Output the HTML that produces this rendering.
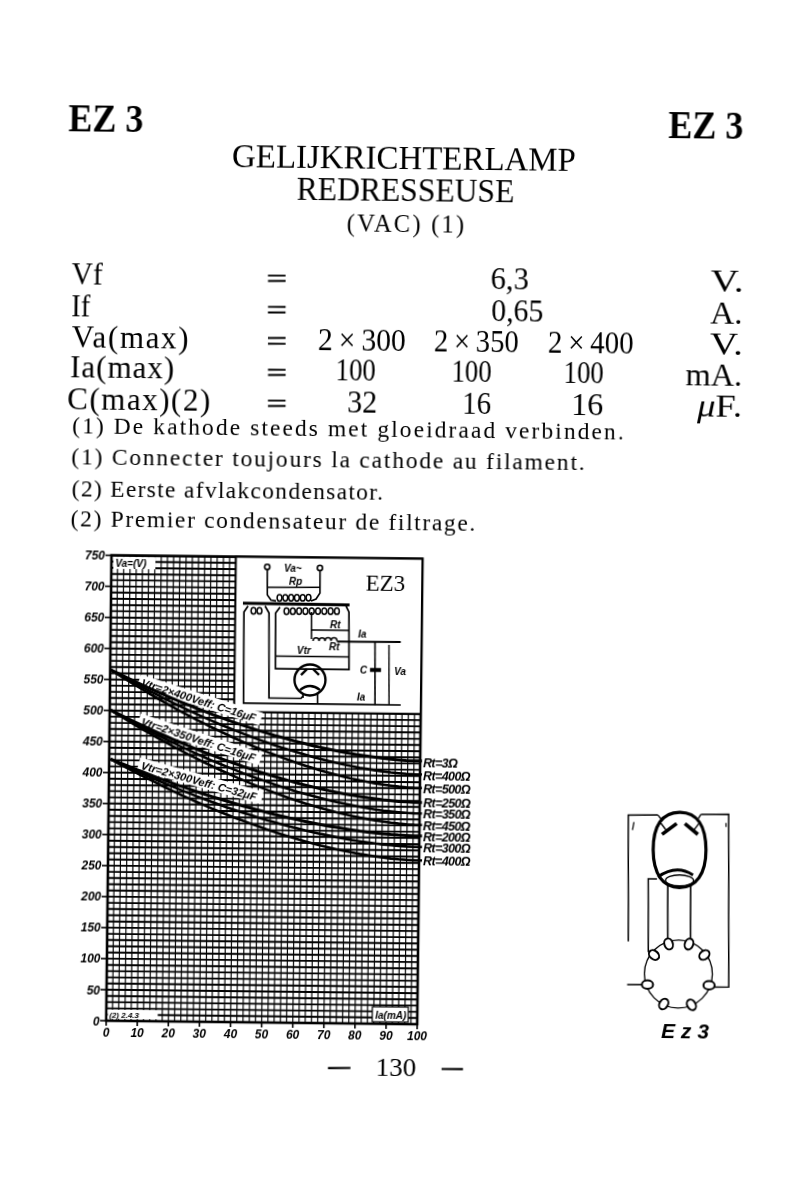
<!DOCTYPE html>
<html><head><meta charset="utf-8">
<style>
html,body{margin:0;padding:0;background:#fff;}
body{width:800px;height:1200px;position:relative;overflow:hidden;font-family:"Liberation Serif",serif;color:#000;}
#page{position:absolute;left:0;top:0;width:800px;height:1200px;filter:grayscale(1);transform-origin:400px 600px;transform:rotate(0.65deg);}
.t{position:absolute;white-space:nowrap;line-height:1;transform-origin:0 0;}
</style></head><body><div id="page">
<div class="t" id="ezl" style="left:63.36px;top:103.42px;font-size:39.5px;font-weight:bold;-webkit-text-stroke:0;transform:scaleX(0.9113);">EZ 3</div>
<div class="t" id="ezr" style="left:663.03px;top:101.80px;font-size:40px;font-weight:bold;-webkit-text-stroke:0;transform:scaleX(0.9005);">EZ 3</div>
<div class="t" id="h1" style="left:227.00px;top:140.94px;font-size:33.5px;transform:scaleX(0.9828);">GELIJKRICHTERLAMP</div>
<div class="t" id="h2" style="left:291.50px;top:172.54px;font-size:33.5px;transform:scaleX(0.9433);">REDRESSEUSE</div>
<div class="t" id="h3" style="left:342.52px;top:211.98px;font-size:24.5px;letter-spacing:2.225px;">(VAC) (1)</div>
<div class="t" id="r1a" style="left:68.48px;top:261.20px;font-size:32px;transform:scaleX(0.9152);">Vf</div>
<div class="t" id="r2a" style="left:68.28px;top:292.70px;font-size:32px;transform:scaleX(0.8871);">If</div>
<div class="t" id="r3a" style="left:68.85px;top:324.54px;font-size:31px;letter-spacing:1.667px;">Va(max)</div>
<div class="t" id="r4a" style="left:67.50px;top:355.34px;font-size:31px;letter-spacing:1.000px;">Ia(max)</div>
<div class="t" id="r5a" style="left:65.03px;top:386.54px;font-size:31px;letter-spacing:1.525px;">C(max)(2)</div>
<div class="t" id="c21" style="left:487.46px;top:262.04px;font-size:31px;transform:scaleX(0.9845);">6,3</div>
<div class="t" id="c22" style="left:488.21px;top:293.54px;font-size:31px;transform:scaleX(0.9615);">0,65</div>
<div class="t" id="c13" style="left:315.30px;top:324.54px;font-size:31px;transform:scaleX(0.9557);">2 × 300</div>
<div class="t" id="c23" style="left:430.82px;top:324.54px;font-size:31px;transform:scaleX(0.9224);">2 × 350</div>
<div class="t" id="c33" style="left:544.81px;top:324.54px;font-size:31px;transform:scaleX(0.9333);">2 × 400</div>
<div class="t" id="c14" style="left:333.23px;top:355.34px;font-size:31px;transform:scaleX(0.8643);">100</div>
<div class="t" id="c24" style="left:448.77px;top:355.34px;font-size:31px;transform:scaleX(0.8611);">100</div>
<div class="t" id="c34" style="left:561.23px;top:355.34px;font-size:31px;transform:scaleX(0.8643);">100</div>
<div class="t" id="c15" style="left:344.57px;top:386.54px;font-size:31px;transform:scaleX(0.9656);">32</div>
<div class="t" id="c25" style="left:460.16px;top:386.54px;font-size:31px;transform:scaleX(0.9315);">16</div>
<div class="t" id="c35" style="left:569.39px;top:386.54px;font-size:31px;transform:scaleX(1.0383);">16</div>
<div class="t" id="u1" style="left:706.71px;top:261.20px;font-size:32px;transform:scaleX(1.2190);">V.</div>
<div class="t" id="u2" style="left:706.79px;top:292.70px;font-size:32px;transform:scaleX(1.0424);">A.</div>
<div class="t" id="u3" style="left:706.71px;top:323.70px;font-size:32px;transform:scaleX(1.2190);">V.</div>
<div class="t" id="u4" style="left:683.09px;top:354.50px;font-size:32px;transform:scaleX(1.0119);">mA.</div>
<div class="t" id="u5" style="left:694.69px;top:385.70px;font-size:32px;transform:scaleX(1.1417);"><i>μ</i>F.</div>
<div class="t" id="n1" style="left:70.25px;top:417.52px;font-size:23.5px;letter-spacing:2.074px;">(1) De kathode steeds met gloeidraad verbinden.</div>
<div class="t" id="n2" style="left:69.85px;top:448.92px;font-size:23.5px;letter-spacing:1.791px;">(1) Connecter toujours la cathode au filament.</div>
<div class="t" id="n3" style="left:70.53px;top:480.82px;font-size:23.5px;letter-spacing:1.307px;">(2) Eerste afvlakcondensator.</div>
<div class="t" id="n4" style="left:69.85px;top:510.92px;font-size:23.5px;letter-spacing:1.650px;">(2) Premier condensateur de filtrage.</div>
<div class="t" id="pg" style="left:380.89px;top:1055.06px;font-size:25px;transform:scaleX(1.0802);">130</div>
<svg id="extra" width="800" height="1200" style="position:absolute;left:0;top:0"><style>.ax{font-family:"Liberation Sans",sans-serif;font-weight:bold;font-style:italic;font-size:12px;}.sm{font-family:"Liberation Sans",sans-serif;font-weight:bold;font-style:italic;font-size:10px;}.cl{font-family:"Liberation Sans",sans-serif;font-weight:bold;font-style:italic;font-size:11px;}.rl{font-family:"Liberation Sans",sans-serif;font-weight:bold;font-style:italic;font-size:12.5px;letter-spacing:-0.6px;}.ez{font-family:"Liberation Serif",serif;font-size:23px;}.tz{font-family:"Liberation Sans",sans-serif;font-weight:bold;font-style:italic;font-size:21px;}</style><path d="M111.0 558.6V1024.0M117.2 558.6V1024.0M123.4 558.6V1024.0M129.7 558.6V1024.0M135.9 558.6V1024.0M142.1 558.6V1024.0M148.3 558.6V1024.0M154.5 558.6V1024.0M160.8 558.6V1024.0M167.0 558.6V1024.0M173.2 558.6V1024.0M179.4 558.6V1024.0M185.6 558.6V1024.0M191.9 558.6V1024.0M198.1 558.6V1024.0M204.3 558.6V1024.0M210.5 558.6V1024.0M216.7 558.6V1024.0M223.0 558.6V1024.0M229.2 558.6V1024.0M235.4 558.6V1024.0M241.6 558.6V1024.0M247.8 558.6V1024.0M254.1 558.6V1024.0M260.3 558.6V1024.0M266.5 558.6V1024.0M272.7 558.6V1024.0M278.9 558.6V1024.0M285.2 558.6V1024.0M291.4 558.6V1024.0M297.6 558.6V1024.0M303.8 558.6V1024.0M310.0 558.6V1024.0M316.3 558.6V1024.0M322.5 558.6V1024.0M328.7 558.6V1024.0M334.9 558.6V1024.0M341.1 558.6V1024.0M347.4 558.6V1024.0M353.6 558.6V1024.0M359.8 558.6V1024.0M366.0 558.6V1024.0M372.2 558.6V1024.0M378.5 558.6V1024.0M384.7 558.6V1024.0M390.9 558.6V1024.0M397.1 558.6V1024.0M403.3 558.6V1024.0M409.6 558.6V1024.0M415.8 558.6V1024.0M422.0 558.6V1024.0" stroke="#000" stroke-width="1.15" fill="none"/><path d="M111.0 558.6H422.0M111.0 564.8H422.0M111.0 571.0H422.0M111.0 577.2H422.0M111.0 583.4H422.0M111.0 589.6H422.0M111.0 595.8H422.0M111.0 602.0H422.0M111.0 608.2H422.0M111.0 614.4H422.0M111.0 620.7H422.0M111.0 626.9H422.0M111.0 633.1H422.0M111.0 639.3H422.0M111.0 645.5H422.0M111.0 651.7H422.0M111.0 657.9H422.0M111.0 664.1H422.0M111.0 670.3H422.0M111.0 676.5H422.0M111.0 682.7H422.0M111.0 688.9H422.0M111.0 695.1H422.0M111.0 701.3H422.0M111.0 707.5H422.0M111.0 713.7H422.0M111.0 719.9H422.0M111.0 726.1H422.0M111.0 732.3H422.0M111.0 738.6H422.0M111.0 744.8H422.0M111.0 751.0H422.0M111.0 757.2H422.0M111.0 763.4H422.0M111.0 769.6H422.0M111.0 775.8H422.0M111.0 782.0H422.0M111.0 788.2H422.0M111.0 794.4H422.0M111.0 800.6H422.0M111.0 806.8H422.0M111.0 813.0H422.0M111.0 819.2H422.0M111.0 825.4H422.0M111.0 831.6H422.0M111.0 837.8H422.0M111.0 844.0H422.0M111.0 850.3H422.0M111.0 856.5H422.0M111.0 862.7H422.0M111.0 868.9H422.0M111.0 875.1H422.0M111.0 881.3H422.0M111.0 887.5H422.0M111.0 893.7H422.0M111.0 899.9H422.0M111.0 906.1H422.0M111.0 912.3H422.0M111.0 918.5H422.0M111.0 924.7H422.0M111.0 930.9H422.0M111.0 937.1H422.0M111.0 943.3H422.0M111.0 949.5H422.0M111.0 955.7H422.0M111.0 961.9H422.0M111.0 968.2H422.0M111.0 974.4H422.0M111.0 980.6H422.0M111.0 986.8H422.0M111.0 993.0H422.0M111.0 999.2H422.0M111.0 1005.4H422.0M111.0 1011.6H422.0M111.0 1017.8H422.0M111.0 1024.0H422.0" stroke="#000" stroke-width="1.9" fill="none"/><rect x="111.0" y="558.6" width="311.0" height="465.4" stroke="#000" stroke-width="2.6" fill="none"/><rect x="235.4" y="558.6" width="186.6" height="155.1" fill="#fff" stroke="#000" stroke-width="2"/><path d="M105.0 1024.0H111.0" stroke="#000" stroke-width="1.6"/><text x="104.5" y="1028.5" class="ax" text-anchor="end">0</text><path d="M105.0 993.0H111.0" stroke="#000" stroke-width="1.6"/><text x="104.5" y="997.5" class="ax" text-anchor="end">50</text><path d="M105.0 961.9H111.0" stroke="#000" stroke-width="1.6"/><text x="104.5" y="966.4" class="ax" text-anchor="end">100</text><path d="M105.0 930.9H111.0" stroke="#000" stroke-width="1.6"/><text x="104.5" y="935.4" class="ax" text-anchor="end">150</text><path d="M105.0 899.9H111.0" stroke="#000" stroke-width="1.6"/><text x="104.5" y="904.4" class="ax" text-anchor="end">200</text><path d="M105.0 868.9H111.0" stroke="#000" stroke-width="1.6"/><text x="104.5" y="873.4" class="ax" text-anchor="end">250</text><path d="M105.0 837.8H111.0" stroke="#000" stroke-width="1.6"/><text x="104.5" y="842.3" class="ax" text-anchor="end">300</text><path d="M105.0 806.8H111.0" stroke="#000" stroke-width="1.6"/><text x="104.5" y="811.3" class="ax" text-anchor="end">350</text><path d="M105.0 775.8H111.0" stroke="#000" stroke-width="1.6"/><text x="104.5" y="780.3" class="ax" text-anchor="end">400</text><path d="M105.0 744.8H111.0" stroke="#000" stroke-width="1.6"/><text x="104.5" y="749.3" class="ax" text-anchor="end">450</text><path d="M105.0 713.7H111.0" stroke="#000" stroke-width="1.6"/><text x="104.5" y="718.2" class="ax" text-anchor="end">500</text><path d="M105.0 682.7H111.0" stroke="#000" stroke-width="1.6"/><text x="104.5" y="687.2" class="ax" text-anchor="end">550</text><path d="M105.0 651.7H111.0" stroke="#000" stroke-width="1.6"/><text x="104.5" y="656.2" class="ax" text-anchor="end">600</text><path d="M105.0 620.7H111.0" stroke="#000" stroke-width="1.6"/><text x="104.5" y="625.2" class="ax" text-anchor="end">650</text><path d="M105.0 589.6H111.0" stroke="#000" stroke-width="1.6"/><text x="104.5" y="594.1" class="ax" text-anchor="end">700</text><path d="M105.0 558.6H111.0" stroke="#000" stroke-width="1.6"/><text x="104.5" y="563.1" class="ax" text-anchor="end">750</text><path d="M111.0 1024.0V1029.0" stroke="#000" stroke-width="1.6"/><text x="111.0" y="1040.0" class="ax" text-anchor="middle">0</text><path d="M142.1 1024.0V1029.0" stroke="#000" stroke-width="1.6"/><text x="142.1" y="1040.0" class="ax" text-anchor="middle">10</text><path d="M173.2 1024.0V1029.0" stroke="#000" stroke-width="1.6"/><text x="173.2" y="1040.0" class="ax" text-anchor="middle">20</text><path d="M204.3 1024.0V1029.0" stroke="#000" stroke-width="1.6"/><text x="204.3" y="1040.0" class="ax" text-anchor="middle">30</text><path d="M235.4 1024.0V1029.0" stroke="#000" stroke-width="1.6"/><text x="235.4" y="1040.0" class="ax" text-anchor="middle">40</text><path d="M266.5 1024.0V1029.0" stroke="#000" stroke-width="1.6"/><text x="266.5" y="1040.0" class="ax" text-anchor="middle">50</text><path d="M297.6 1024.0V1029.0" stroke="#000" stroke-width="1.6"/><text x="297.6" y="1040.0" class="ax" text-anchor="middle">60</text><path d="M328.7 1024.0V1029.0" stroke="#000" stroke-width="1.6"/><text x="328.7" y="1040.0" class="ax" text-anchor="middle">70</text><path d="M359.8 1024.0V1029.0" stroke="#000" stroke-width="1.6"/><text x="359.8" y="1040.0" class="ax" text-anchor="middle">80</text><path d="M390.9 1024.0V1029.0" stroke="#000" stroke-width="1.6"/><text x="390.9" y="1040.0" class="ax" text-anchor="middle">90</text><path d="M422.0 1024.0V1029.0" stroke="#000" stroke-width="1.6"/><text x="422.0" y="1040.0" class="ax" text-anchor="middle">100</text><rect x="113.0" y="560.1" width="42" height="12" fill="#fff"/><text x="115.0" y="570.1" class="sm">Va=(V)</text><rect x="377.0" y="1007.0" width="36" height="15" fill="#fff" stroke="#000" stroke-width="1.2"/><text x="380.0" y="1019.0" class="sm">Ia(mA)</text><rect x="112.5" y="1013.0" width="50" height="9" fill="#fff"/><text x="114.0" y="1021.0" class="sm" style="font-size:8px">(2) 2.4.3</text><g transform="translate(141.4 688.9) rotate(16.85)"><rect x="-3" y="-11" width="128" height="13" fill="#fff"/><text x="0" y="0" class="cl">Vtr=2×400Veff: C=16μF</text></g><g transform="translate(141.8 727.9) rotate(17.35)"><rect x="-3" y="-11" width="128" height="13" fill="#fff"/><text x="0" y="0" class="cl">Vtr=2×350Veff: C=16μF</text></g><g transform="translate(142.3 771.9) rotate(14.85)"><rect x="-3" y="-11" width="128" height="13" fill="#fff"/><text x="0" y="0" class="cl">Vtr=2×300Veff: C=32μF</text></g><path d="M111.4 673.0L119.2 676.7L127.1 680.4L134.9 684.0L142.7 687.6L150.5 691.1L158.4 694.5L166.2 697.8L174.0 701.1L181.8 704.3L189.7 707.4L197.5 710.5L205.3 713.4L213.1 716.3L220.9 719.1L228.7 721.9L236.6 724.6L244.4 727.1L252.2 729.6L260.0 732.1L267.8 734.4L275.6 736.7L283.4 738.8L291.2 740.9L299.1 742.9L306.9 744.8L314.7 746.7L322.5 748.4L330.3 750.0L338.1 751.5L345.9 753.0L353.7 754.3L361.5 755.5L369.3 756.6L377.1 757.6L384.9 758.5L392.7 759.3L400.5 759.9L408.2 760.4L416.0 760.7L423.8 760.7" stroke="#000" stroke-width="3.0" fill="none"/><path d="M111.4 673.0L119.2 677.3L127.1 681.6L134.9 685.7L142.7 689.8L150.6 693.8L158.4 697.7L166.2 701.6L174.1 705.4L181.9 709.0L189.7 712.6L197.5 716.1L205.4 719.6L213.2 722.9L221.0 726.2L228.8 729.3L236.7 732.4L244.5 735.4L252.3 738.3L260.1 741.1L267.9 743.8L275.7 746.4L283.6 748.9L291.4 751.3L299.2 753.6L307.0 755.8L314.8 757.9L322.6 759.9L330.4 761.8L338.2 763.5L346.0 765.2L353.8 766.7L361.6 768.2L369.4 769.4L377.2 770.6L385.0 771.6L392.8 772.5L400.6 773.2L408.4 773.8L416.2 774.1L424.0 774.2" stroke="#000" stroke-width="2.6" fill="none"/><path d="M111.4 673.0L119.3 677.9L127.1 682.7L134.9 687.4L142.8 692.0L150.6 696.6L158.4 701.0L166.3 705.4L174.1 709.6L181.9 713.8L189.8 717.9L197.6 721.8L205.4 725.7L213.3 729.5L221.1 733.2L228.9 736.7L236.7 740.2L244.6 743.6L252.4 746.9L260.2 750.0L268.0 753.1L275.8 756.0L283.7 758.9L291.5 761.6L299.3 764.2L307.1 766.7L314.9 769.1L322.7 771.4L330.5 773.5L338.4 775.5L346.2 777.4L354.0 779.2L361.8 780.8L369.6 782.2L377.4 783.6L385.2 784.7L393.0 785.7L400.8 786.6L408.6 787.2L416.3 787.6L424.1 787.7" stroke="#000" stroke-width="2.6" fill="none"/><path d="M111.9 713.3L119.7 717.1L127.5 720.8L135.4 724.5L143.2 728.1L151.0 731.6L158.8 735.1L166.7 738.5L174.5 741.8L182.3 745.0L190.1 748.2L197.9 751.3L205.8 754.3L213.6 757.2L221.4 760.1L229.2 762.8L237.0 765.5L244.8 768.2L252.7 770.7L260.5 773.2L268.3 775.5L276.1 777.8L283.9 780.0L291.7 782.1L299.5 784.2L307.3 786.1L315.1 787.9L322.9 789.7L330.7 791.4L338.5 792.9L346.4 794.4L354.2 795.7L362.0 796.9L369.8 798.1L377.5 799.1L385.3 800.0L393.1 800.7L400.9 801.4L408.7 801.8L416.5 802.2L424.3 802.2" stroke="#000" stroke-width="3.0" fill="none"/><path d="M111.9 713.3L119.7 717.5L127.5 721.7L135.4 725.9L143.2 729.9L151.0 733.9L158.9 737.7L166.7 741.5L174.5 745.2L182.3 748.9L190.2 752.4L198.0 755.9L205.8 759.3L213.6 762.6L221.5 765.8L229.3 768.9L237.1 771.9L244.9 774.9L252.7 777.7L260.6 780.5L268.4 783.1L276.2 785.7L284.0 788.2L291.8 790.6L299.6 792.9L307.4 795.0L315.2 797.1L323.0 799.1L330.9 800.9L338.7 802.7L346.5 804.3L354.3 805.8L362.1 807.2L369.9 808.5L377.7 809.7L385.5 810.7L393.3 811.5L401.1 812.2L408.8 812.8L416.6 813.1L424.4 813.2" stroke="#000" stroke-width="2.6" fill="none"/><path d="M111.9 713.3L119.7 718.0L127.5 722.7L135.4 727.3L143.2 731.8L151.1 736.2L158.9 740.5L166.7 744.7L174.6 748.9L182.4 752.9L190.2 756.9L198.0 760.7L205.9 764.5L213.7 768.2L221.5 771.7L229.4 775.2L237.2 778.6L245.0 781.9L252.8 785.1L260.6 788.1L268.5 791.1L276.3 794.0L284.1 796.7L291.9 799.4L299.7 801.9L307.5 804.4L315.3 806.7L323.2 808.9L331.0 810.9L338.8 812.9L346.6 814.7L354.4 816.4L362.2 818.0L370.0 819.4L377.8 820.7L385.6 821.8L393.4 822.8L401.2 823.6L409.0 824.2L416.8 824.6L424.6 824.7" stroke="#000" stroke-width="2.6" fill="none"/><path d="M112.4 762.3L120.2 765.4L128.1 768.5L135.9 771.6L143.7 774.5L151.5 777.5L159.3 780.3L167.2 783.1L175.0 785.9L182.8 788.6L190.6 791.2L198.4 793.7L206.2 796.2L214.0 798.6L221.9 801.0L229.7 803.3L237.5 805.5L245.3 807.7L253.1 809.8L260.9 811.8L268.7 813.8L276.5 815.7L284.3 817.5L292.1 819.3L299.9 820.9L307.7 822.5L315.5 824.0L323.3 825.5L331.1 826.9L338.9 828.1L346.7 829.3L354.5 830.4L362.3 831.5L370.1 832.4L377.9 833.2L385.7 833.9L393.5 834.6L401.3 835.1L409.1 835.4L416.9 835.7L424.7 835.7" stroke="#000" stroke-width="3.0" fill="none"/><path d="M112.4 762.3L120.2 765.9L128.1 769.4L135.9 772.9L143.7 776.3L151.5 779.7L159.4 783.0L167.2 786.2L175.0 789.3L182.8 792.4L190.7 795.4L198.5 798.4L206.3 801.2L214.1 804.0L221.9 806.7L229.7 809.4L237.6 811.9L245.4 814.4L253.2 816.8L261.0 819.2L268.8 821.4L276.6 823.6L284.4 825.7L292.2 827.7L300.0 829.6L307.8 831.5L315.7 833.2L323.5 834.9L331.3 836.4L339.1 837.9L346.9 839.3L354.7 840.6L362.5 841.7L370.3 842.8L378.1 843.8L385.8 844.6L393.6 845.3L401.4 845.9L409.2 846.4L417.0 846.7L424.8 846.7" stroke="#000" stroke-width="2.6" fill="none"/><path d="M112.4 762.3L120.3 766.5L128.1 770.6L135.9 774.6L143.7 778.6L151.6 782.4L159.4 786.2L167.2 790.0L175.1 793.6L182.9 797.2L190.7 800.6L198.5 804.0L206.4 807.4L214.2 810.6L222.0 813.7L229.8 816.8L237.6 819.8L245.5 822.6L253.3 825.4L261.1 828.1L268.9 830.8L276.7 833.3L284.5 835.7L292.3 838.0L300.2 840.3L308.0 842.4L315.8 844.4L323.6 846.4L331.4 848.2L339.2 849.9L347.0 851.5L354.8 853.0L362.6 854.4L370.4 855.6L378.2 856.7L386.0 857.7L393.8 858.6L401.6 859.3L409.4 859.8L417.2 860.1L425.0 860.2" stroke="#000" stroke-width="2.6" fill="none"/><text x="424.9" y="767.2" class="rl">Rt=3Ω</text><text x="425.0" y="779.7" class="rl">Rt=400Ω</text><text x="425.2" y="792.7" class="rl">Rt=500Ω</text><text x="425.4" y="807.2" class="rl">Rt=250Ω</text><text x="425.5" y="818.2" class="rl">Rt=350Ω</text><text x="425.6" y="829.7" class="rl">Rt=450Ω</text><text x="425.7" y="840.7" class="rl">Rt=200Ω</text><text x="425.9" y="851.7" class="rl">Rt=300Ω</text><text x="426.0" y="865.2" class="rl">Rt=400Ω</text><circle cx="266.9" cy="568.4" r="2.6" stroke="#000" fill="none" stroke-width="1.6"/><circle cx="319.6" cy="568.9" r="2.6" stroke="#000" fill="none" stroke-width="1.6"/><path d="M267.0 571.0L267.3 596.5L271.0 601.5L276.0 602.4" stroke="#000" fill="none" stroke-width="1.6"/><path d="M319.7 571.4L319.9 593.9L316.0 600.0L311.0 602.0" stroke="#000" fill="none" stroke-width="1.6"/><path d="M267.2 588.8L319.9 588.2" stroke="#000" fill="none" stroke-width="1.6"/><ellipse cx="279.5" cy="599.2" rx="2.4" ry="3.2" fill="none" stroke="#000" stroke-width="1.5"/><ellipse cx="285.3" cy="599.1" rx="2.4" ry="3.2" fill="none" stroke="#000" stroke-width="1.5"/><ellipse cx="291.1" cy="599.0" rx="2.4" ry="3.2" fill="none" stroke="#000" stroke-width="1.5"/><ellipse cx="296.9" cy="599.0" rx="2.4" ry="3.2" fill="none" stroke="#000" stroke-width="1.5"/><ellipse cx="302.7" cy="598.9" rx="2.4" ry="3.2" fill="none" stroke="#000" stroke-width="1.5"/><ellipse cx="308.5" cy="598.8" rx="2.4" ry="3.2" fill="none" stroke="#000" stroke-width="1.5"/><path d="M243.0 605.0L349.6 605.6" stroke="#000" fill="none" stroke-width="3"/><ellipse cx="253.6" cy="612.5" rx="2.4" ry="3.2" fill="none" stroke="#000" stroke-width="1.5"/><ellipse cx="259.6" cy="612.4" rx="2.4" ry="3.2" fill="none" stroke="#000" stroke-width="1.5"/><ellipse cx="286.6" cy="612.5" rx="2.4" ry="3.2" fill="none" stroke="#000" stroke-width="1.5"/><ellipse cx="292.9" cy="612.4" rx="2.4" ry="3.2" fill="none" stroke="#000" stroke-width="1.5"/><ellipse cx="299.2" cy="612.3" rx="2.4" ry="3.2" fill="none" stroke="#000" stroke-width="1.5"/><ellipse cx="305.5" cy="612.3" rx="2.4" ry="3.2" fill="none" stroke="#000" stroke-width="1.5"/><ellipse cx="311.8" cy="612.2" rx="2.4" ry="3.2" fill="none" stroke="#000" stroke-width="1.5"/><ellipse cx="318.1" cy="612.1" rx="2.4" ry="3.2" fill="none" stroke="#000" stroke-width="1.5"/><ellipse cx="324.4" cy="612.1" rx="2.4" ry="3.2" fill="none" stroke="#000" stroke-width="1.5"/><ellipse cx="330.7" cy="612.0" rx="2.4" ry="3.2" fill="none" stroke="#000" stroke-width="1.5"/><ellipse cx="337.0" cy="611.9" rx="2.4" ry="3.2" fill="none" stroke="#000" stroke-width="1.5"/><path d="M248.1 607.7L244.1 613.8L244.7 704.8L401.9 705.0" stroke="#000" fill="none" stroke-width="1.7"/><path d="M265.1 607.5L269.2 614.5L270.1 699.5L302.1 699.5L304.1 697.1" stroke="#000" fill="none" stroke-width="1.7"/><path d="M280.1 608.4L275.7 614.4L276.3 670.2L349.8 670.2L349.1 612.6L346.1 606.6" stroke="#000" fill="none" stroke-width="1.7"/><path d="M276.1 657.4L349.6 657.6" stroke="#000" fill="none" stroke-width="1.5"/><path d="M311.6 613.0L311.8 631.0L349.3 631.0" stroke="#000" fill="none" stroke-width="1.5"/><path d="M311.8 631.0L311.9 640.0" stroke="#000" fill="none" stroke-width="1.5"/><path d="M313.5 642.0 a3 3.2 0 0 1 6 0 M319.5 641.9 a3 3.2 0 0 1 6 0 M325.5 641.8 a3 3.2 0 0 1 6 0 M331.5 641.8 a3 3.2 0 0 1 6 0 " stroke="#000" fill="none" stroke-width="1.5"/><path d="M337.5 642.2L401.2 642.0" stroke="#000" fill="none" stroke-width="2"/><path d="M375.5 642.3L376.2 705.3" stroke="#000" fill="none" stroke-width="1.6"/><path d="M389.5 645.1L390.2 705.1" stroke="#000" fill="none" stroke-width="1.4"/><path d="M370.8 670.3L381.8 670.2" stroke="#000" fill="none" stroke-width="4"/><circle cx="310.9" cy="681.0" r="15.5" stroke="#000" fill="none" stroke-width="2.4"/><path d="M301.9 676.1L307.8 670.1M313.8 670.0L319.9 675.9" stroke="#000" fill="none" stroke-width="2.4"/><path d="M301.0 691.1 Q310.9 683.0 321.0 690.9" stroke="#000" fill="none" stroke-width="2.4"/><path d="M304.1 694.1L304.1 699.1M318.6 694.9L318.7 704.9" stroke="#000" fill="none" stroke-width="1.6"/><text x="283.7" y="573.3" class="sm" >Va~</text><text x="288.8" y="586.3" class="sm" >Rp</text><text x="330.3" y="628.8" class="sm" >Rt</text><text x="329.6" y="650.8" class="sm" >Rt</text><text x="297.6" y="655.2" class="sm" >Vtr</text><text x="358.4" y="637.5" class="sm" >Ia</text><text x="360.8" y="674.4" class="sm" >C</text><text x="394.9" y="675.1" class="sm" >Va</text><text x="358.1" y="700.5" class="sm" >Ia</text><text x="365.4" y="591.4" class="ez" >EZ3</text><path d="M660.4 812.1L630.7 812.4L632.2 938.8" stroke="#000" fill="none" stroke-width="1.5"/><path d="M703.4 810.9L731.1 810.6L733.1 983.2L718.5 983.4" stroke="#000" fill="none" stroke-width="1.5"/><path d="M682.0 809.1 C699.4 808.9 708.5 822.5 708.8 846.5 C709.1 870.5 699.2 884.2 682.8 884.4 C666.2 884.6 656.3 871.1 656.0 847.1 C655.7 823.1 664.4 809.3 682.0 809.1Z" stroke="#000" fill="none" stroke-width="3.2"/><path d="M660.4 812.1L663.5 816.0M703.4 810.9L700.5 815.6M668.6 827.0L662.5 819.0M696.6 826.6L702.5 818.6" stroke="#000" fill="none" stroke-width="1.3"/><ellipse cx="682.7" cy="877.3" rx="14" ry="5.5" stroke="#000" fill="none" stroke-width="1.4"/><path d="M636.5 819.3L635.1 827.3M728.5 819.3L728.6 823.3" stroke="#000" fill="none" stroke-width="1.2"/><path d="M664.7 831.4L679.2 820.4M687.4 820.4L700.5 831.0" stroke="#000" fill="none" stroke-width="3.6"/><path d="M661.1 874.1 Q679.0 860.9 696.1 871.7" stroke="#000" fill="none" stroke-width="3"/><path d="M660.1 875.9L651.4 876.0L652.3 949.2" stroke="#000" fill="none" stroke-width="1.5"/><path d="M671.0 882.9L671.6 934.9M693.8 882.7L694.4 934.7" stroke="#000" fill="none" stroke-width="1.6"/><circle cx="682.6" cy="970.8" r="34" stroke="#000" fill="none" stroke-width="1.3"/><path d="M631.5 981.9L649.3 981.7" stroke="#000" fill="none" stroke-width="1.5"/><ellipse cx="672.5" cy="940.9" rx="4.2" ry="5.6" transform="rotate(-20 672.5 940.9)" fill="#fff" stroke="#000" stroke-width="2"/><ellipse cx="692.9" cy="940.7" rx="4.2" ry="5.6" transform="rotate(20 692.9 940.7)" fill="#fff" stroke="#000" stroke-width="2"/><ellipse cx="658.0" cy="952.1" rx="4.2" ry="5.6" transform="rotate(-50 658.0 952.1)" fill="#fff" stroke="#000" stroke-width="2"/><ellipse cx="708.4" cy="951.5" rx="4.2" ry="5.6" transform="rotate(50 708.4 951.5)" fill="#fff" stroke="#000" stroke-width="2"/><ellipse cx="651.8" cy="981.7" rx="4.2" ry="5.6" transform="rotate(-90 651.8 981.7)" fill="#fff" stroke="#000" stroke-width="2"/><ellipse cx="713.4" cy="981.8" rx="4.2" ry="5.6" transform="rotate(90 713.4 981.8)" fill="#fff" stroke="#000" stroke-width="2"/><ellipse cx="668.3" cy="1001.0" rx="4.2" ry="5.6" transform="rotate(-150 668.3 1001.0)" fill="#fff" stroke="#000" stroke-width="2"/><ellipse cx="696.0" cy="1001.5" rx="4.2" ry="5.6" transform="rotate(150 696.0 1001.5)" fill="#fff" stroke="#000" stroke-width="2"/><text x="666.0" y="1035.0" class="tz" >E z 3</text><path d="M264.3 277.1L281.9 276.9M264.4 282.5L282.0 282.3" stroke="#000" stroke-width="1.9" fill="none"/><path d="M264.7 308.4L282.3 308.2M264.7 314.0L282.3 313.8" stroke="#000" stroke-width="1.9" fill="none"/><path d="M265.0 339.5L282.6 339.3M265.1 345.3L282.7 345.1" stroke="#000" stroke-width="1.9" fill="none"/><path d="M265.4 371.3L283.0 371.1M265.5 376.5L283.1 376.3" stroke="#000" stroke-width="1.9" fill="none"/><path d="M265.7 402.1L283.3 401.9M265.8 407.5L283.4 407.3" stroke="#000" stroke-width="1.9" fill="none"/><path d="M333.3 1068.8L355.8 1068.5M446.9 1068.5L468.3 1068.3" stroke="#000" fill="none" stroke-width="2.2"/></svg>
</div></body></html>
